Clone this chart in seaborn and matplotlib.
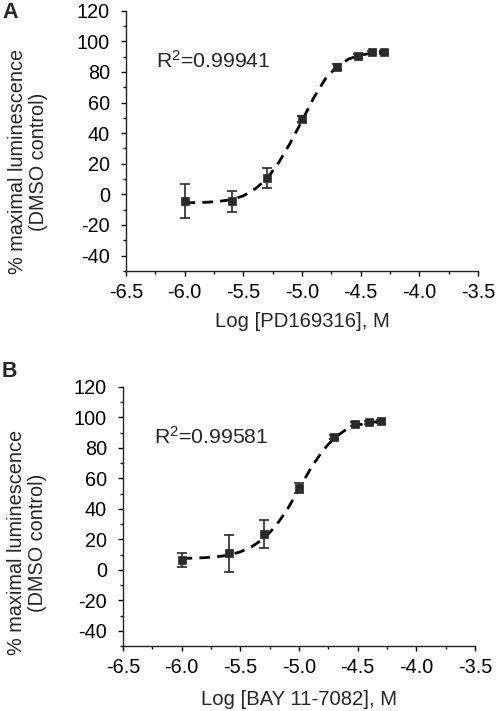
import numpy as np
import pandas as pd
import matplotlib
matplotlib.use('Agg')
import matplotlib.pyplot as plt
from matplotlib.ticker import MultipleLocator
import seaborn as sns

# log concentrations (M) of the measured points
log_conc = [-6.0, -5.6, -5.3, -5.0, -4.7, -4.52, -4.4, -4.3]

# panel A : PD169316
pd_mean = [-4.4, -4.6, 10.8, 49.2, 83.4, 90.2, 92.8, 92.9]
pd_err = [10.9, 7.0, 6.4, 1.8, 2.0, 1.2, 1.0, 1.0]

# panel B : BAY 11-7082
bay_mean = [6.6, 10.9, 23.7, 54.0, 87.3, 95.6, 96.7, 97.6]
bay_err = [4.7, 12.0, 9.3, 3.3, 1.5, 1.5, 1.3, 1.0]

# fitted curves
fit_x = [-6.0, -5.9, -5.8, -5.7, -5.6, -5.5, -5.4, -5.3, -5.2,
         -5.1, -5.0, -4.9, -4.8, -4.7, -4.6, -4.5, -4.4, -4.3]
pd_fit = [-5.5, -5.4, -5.1, -4.5, -3.5, -1.0, 3.5, 10.0, 20.5,
          33.5, 48.0, 63.0, 75.5, 83.5, 88.5, 91.0, 92.3, 93.0]
bay_fit = [7.5, 7.7, 8.0, 8.6, 9.6, 11.8, 15.3, 20.5, 28.5,
           39.5, 53.0, 66.5, 78.0, 86.5, 92.0, 95.0, 96.6, 97.5]

xtick_vals = [-6.5, -6.0, -5.5, -5.0, -4.5, -4.0, -3.5]
ytick_vals = [-40, -20, 0, 20, 40, 60, 80, 100, 120]

panels = [
    ('Log [PD169316], M', 'R$^2$=0.99941', pd_mean, pd_err, pd_fit),
    ('Log [BAY 11-7082], M', 'R$^2$=0.99581', bay_mean, bay_err, bay_fit),
]

sns.set_style('ticks')
plt.rcParams['font.family'] = ['Liberation Sans', 'DejaVu Sans']
plt.rcParams['mathtext.fontset'] = 'custom'
plt.rcParams['mathtext.rm'] = 'Liberation Sans'
plt.rcParams['mathtext.default'] = 'rm'
plt.rcParams['axes.unicode_minus'] = False

fig = plt.figure(figsize=(4.97, 7.11), dpi=100)
ax_a = fig.add_axes([0.2535, 0.619, 0.708, 0.366])
ax_b = fig.add_axes([0.2475, 0.0914, 0.708, 0.3643])

fs = 14.3
dark = '#2a2a2a'
label_pos = [(-0.278, 0.42, -0.196), (-0.273, 0.40, -0.208)]
for ax, (xlab, r2, mean, err, fit), (ylx, yly, xly) in zip(
        [ax_a, ax_b], panels, label_pos):
    fit_df = pd.DataFrame({'x': fit_x, 'y': fit})
    sns.lineplot(data=fit_df, x='x', y='y', ax=ax, color='black', lw=2.0,
                 zorder=2)
    ax.lines[-1].set_dashes((3.8, 2.6))
    ax.errorbar(log_conc, mean, yerr=err, fmt='none', ecolor=dark,
                elinewidth=1.2, capsize=3.5, capthick=1.2, zorder=3)
    pts = pd.DataFrame({'x': log_conc, 'y': mean})
    sns.scatterplot(data=pts, x='x', y='y', ax=ax, marker='s', s=32,
                    color=dark, edgecolor=dark, linewidth=0.5, zorder=4)

    ax.set_xlim(-6.5, -3.5)
    ax.set_ylim(-50, 120)
    ax.set_xticks(xtick_vals)
    ax.set_xticklabels([f'{v:.1f}' for v in xtick_vals])
    ax.set_yticks(ytick_vals)
    ax.xaxis.set_minor_locator(MultipleLocator(0.25))
    ax.yaxis.set_minor_locator(MultipleLocator(10))
    ax.tick_params(axis='both', which='major', length=3.6, width=1,
                   labelsize=fs, colors='black')
    ax.tick_params(axis='both', which='minor', length=2.2, width=1,
                   colors='black')
    ax.tick_params(axis='y', which='major', pad=8)
    ax.tick_params(axis='x', which='major', pad=5)
    sns.despine(ax=ax)
    for s in ['left', 'bottom']:
        ax.spines[s].set_color('#222222')
        ax.spines[s].set_linewidth(1.0)

    ax.set_xlabel(xlab, fontsize=14.6)
    ax.xaxis.set_label_coords(0.5, xly)
    ax.xaxis.label.set_va('center')
    ax.set_ylabel('% maximal luminescence\n(DMSO control)', fontsize=fs,
                  linespacing=1.15)
    ax.yaxis.set_label_coords(ylx, yly)
    ax.yaxis.label.set_va('center')
    ax.text(-6.24, 87, r2, fontsize=15.3, va='center', ha='left')

fig.text(0.004, 0.983, 'A', fontsize=15.5, fontweight='bold', va='center')
fig.text(0.004, 0.478, 'B', fontsize=15.5, fontweight='bold', va='center')

fig.savefig('out.png', dpi=100)
